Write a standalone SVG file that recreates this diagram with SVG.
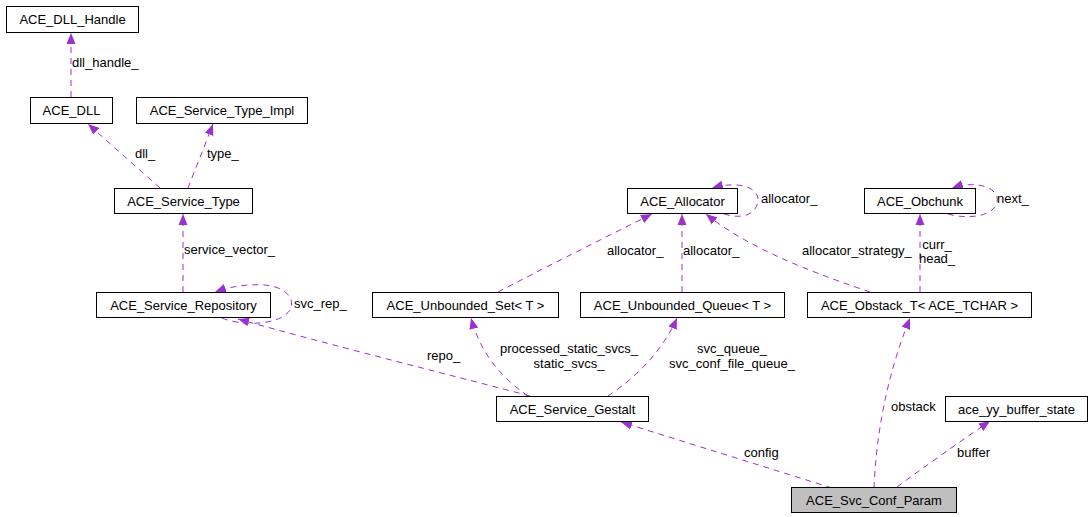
<svg xmlns="http://www.w3.org/2000/svg" width="1091" height="517" viewBox="0 0 1091 517">
<style>
.n rect{fill:#fff;stroke:#000;stroke-width:1}
.n text,.l{font-family:"Liberation Sans",Arial,sans-serif;font-size:13px;fill:#000}
.n text{text-anchor:middle}
#edges path{fill:none;stroke:#9a32cd;stroke-width:1;stroke-dasharray:6,5;marker-end:url(#ah)}
</style>
<defs>
<marker id="ah" markerWidth="12" markerHeight="10" refX="11" refY="5" orient="auto" markerUnits="userSpaceOnUse">
<path d="M0,0.5 L11,5 L0,9.5 z" fill="#9a32cd" stroke="none"/>
</marker>
</defs>
<rect width="1091" height="517" fill="#fff"/>
<g id="edges">
<path d="M71,97 L71,33"/>
<path d="M160,188 L88,124"/>
<path d="M188,188 C195,170 205,145 213,124"/>
<path d="M183,292 L183,214"/>
<path d="M222,318 C240,326 280,326 290,310 C296,298 285,287 265,285 C248,284 232,286 215,292"/>
<path d="M530,396 C470,380 330,345 238,319"/>
<path d="M528,396 C505,380 482,358 471,318"/>
<path d="M608,396 C635,378 662,352 677,318"/>
<path d="M498,292 C540,270 600,240 652,214"/>
<path d="M682,292 L682,214"/>
<path d="M870,292 C820,275 750,250 706,214"/>
<path d="M724,214 C740,219 755,216 758,202 C760,188 740,180 712,188"/>
<path d="M920,292 L920,214"/>
<path d="M948,214 C965,219 993,218 997,202 C1000,187 975,180 952,188"/>
<path d="M832,488 L621,422"/>
<path d="M874,488 C876,440 885,380 910,318"/>
<path d="M897,487 C920,470 955,445 990,421"/>
</g>
<g id="labels">
<text class="l" x="72" y="67">dll_handle_</text>
<text class="l" x="135" y="158">dll_</text>
<text class="l" x="207" y="158">type_</text>
<text class="l" x="184" y="254">service_vector_</text>
<text class="l" x="294" y="308">svc_rep_</text>
<text class="l" x="427" y="360">repo_</text>
<text class="l" x="569" y="353" text-anchor="middle">processed_static_svcs_</text>
<text class="l" x="569" y="368" text-anchor="middle">static_svcs_</text>
<text class="l" x="732" y="353" text-anchor="middle">svc_queue_</text>
<text class="l" x="732" y="368" text-anchor="middle">svc_conf_file_queue_</text>
<text class="l" x="607" y="255">allocator_</text>
<text class="l" x="683" y="255">allocator_</text>
<text class="l" x="802" y="255">allocator_strategy_</text>
<text class="l" x="937" y="249" text-anchor="middle">curr_</text>
<text class="l" x="937" y="263" text-anchor="middle">head_</text>
<text class="l" x="761" y="203">allocator_</text>
<text class="l" x="997" y="203">next_</text>
<text class="l" x="891" y="411">obstack</text>
<text class="l" x="957" y="457">buffer</text>
<text class="l" x="744" y="457">config</text>
</g>
<g id="ACE_DLL_Handle" class="n"><rect x="6.5" y="6.5" width="132" height="26"/><text x="72.5" y="24">ACE_DLL_Handle</text></g>
<g id="ACE_DLL" class="n"><rect x="30.5" y="97.5" width="82" height="26"/><text x="71.5" y="115">ACE_DLL</text></g>
<g id="ACE_Service_Type_Impl" class="n"><rect x="136.5" y="97.5" width="171" height="26"/><text x="222" y="115">ACE_Service_Type_Impl</text></g>
<g id="ACE_Service_Type" class="n"><rect x="114.5" y="188.5" width="138" height="25"/><text x="183.5" y="205.5">ACE_Service_Type</text></g>
<g id="ACE_Service_Repository" class="n"><rect x="96.5" y="292.5" width="174" height="25"/><text x="183.5" y="309.5">ACE_Service_Repository</text></g>
<g id="ACE_Unbounded_Set" class="n"><rect x="372.5" y="292.5" width="186" height="25"/><text x="465.5" y="309.5">ACE_Unbounded_Set&lt; T &gt;</text></g>
<g id="ACE_Unbounded_Queue" class="n"><rect x="580.5" y="292.5" width="204" height="25"/><text x="682.5" y="309.5">ACE_Unbounded_Queue&lt; T &gt;</text></g>
<g id="ACE_Obstack_T" class="n"><rect x="807.5" y="292.5" width="224" height="25"/><text x="919.5" y="309.5">ACE_Obstack_T&lt; ACE_TCHAR &gt;</text></g>
<g id="ACE_Allocator" class="n"><rect x="627.5" y="188.5" width="110" height="25"/><text x="682.5" y="205.5">ACE_Allocator</text></g>
<g id="ACE_Obchunk" class="n"><rect x="864.5" y="188.5" width="111" height="25"/><text x="920" y="205.5">ACE_Obchunk</text></g>
<g id="ACE_Service_Gestalt" class="n"><rect x="496.5" y="396.5" width="152" height="25"/><text x="572.5" y="413.5">ACE_Service_Gestalt</text></g>
<g id="ace_yy_buffer_state" class="n"><rect x="945.5" y="396.5" width="142" height="25"/><text x="1016.5" y="413.5">ace_yy_buffer_state</text></g>
<g id="ACE_Svc_Conf_Param" class="n"><rect x="791.5" y="487.5" width="165" height="25" style="fill:#bfbfbf"/><text x="874" y="504.5">ACE_Svc_Conf_Param</text></g>
</svg>
